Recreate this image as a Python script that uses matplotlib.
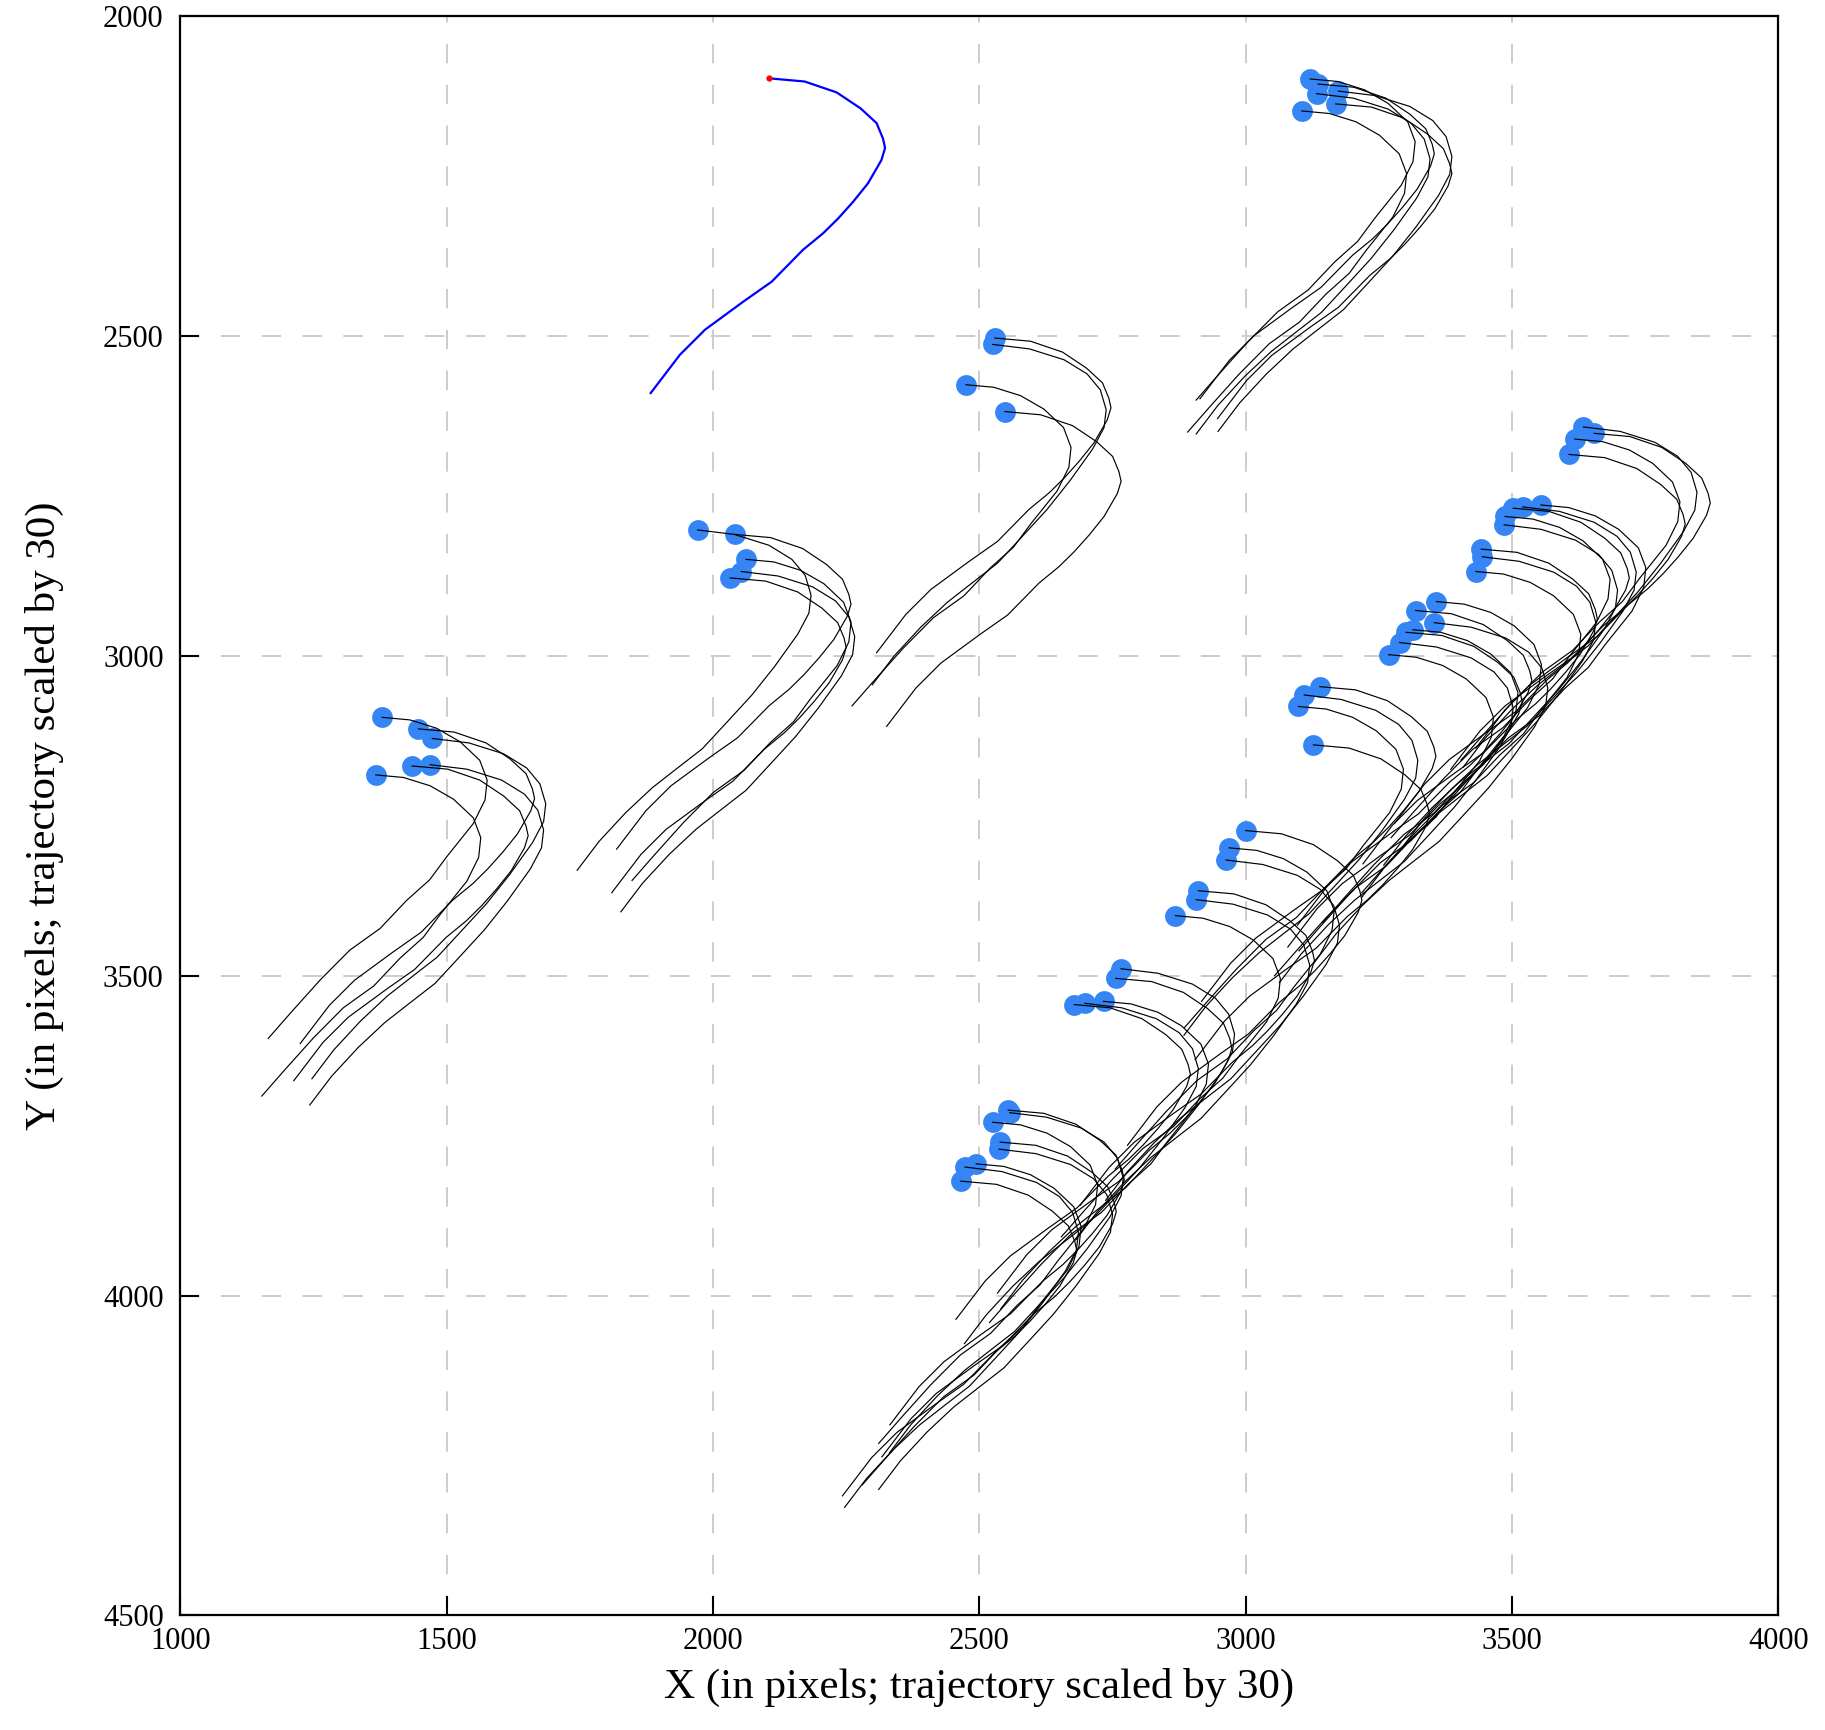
import matplotlib
matplotlib.use("Agg")
import matplotlib.pyplot as plt

plt.rcParams["font.family"] = ["Liberation Serif", "DejaVu Serif"]

# blue reference trajectory
blue_x = [2105, 2172, 2232, 2277, 2307, 2319, 2323, 2316, 2291, 2263, 2235,
          2207, 2169, 2110, 2057, 1985, 1938, 1883]
blue_y = [2097, 2102, 2119, 2144, 2167, 2191, 2206, 2225, 2261, 2290, 2316,
          2339, 2365, 2415, 2446, 2490, 2529, 2589]

# black trajectory shapes, offsets from the starting dot
shape_a_dx = [0, 67, 127, 172, 202, 214, 218, 211, 186, 158, 130, 102, 64, 5,
              -48, -120, -167, -222]
shape_a_dy = [0, 5, 22, 47, 70, 94, 109, 128, 164, 193, 219, 242, 268, 318,
              349, 393, 432, 492]
shape_b_dx = [0, 52, 102, 146, 183, 197, 193, 171, 121, 89, 46, -4, -61,
              -117, -173, -214]
shape_b_dy = [0, 4, 17, 38, 67, 98, 129, 166, 218, 254, 286, 330, 364, 411,
              463, 502]
shape_c_dx = [0, 69, 134, 177, 202, 213, 209, 188, 145, 102, 59, 9, -42, -85,
              -135, -185, -226]
shape_c_dy = [0, 7, 24, 46, 71, 102, 130, 163, 213, 258, 297, 342, 375, 403,
              442, 487, 532]

# starting points of the black trajectories
start_x = [1379, 1447, 1473, 1435, 1469, 1367,
           1971, 2041, 2062, 2053, 2032,
           2529, 2525, 2475, 2548,
           3121, 3136, 3174, 3133, 3169, 3105,
           2554, 2557, 2525, 2539, 2537, 2494, 2473, 2465,
           2766, 2756, 2733, 2698, 2678,
           3000, 2969, 2963, 2911, 2907, 2868,
           3358, 3319, 3354, 3314, 3301, 3289, 3268, 3139, 3110, 3099, 3127,
           3634, 3654, 3618, 3607, 3554, 3520, 3502, 3487, 3485, 3442, 3444, 3432]
start_y = [3096, 3114, 3129, 3172, 3170, 3186,
           2803, 2810, 2849, 2868, 2878,
           2503, 2513, 2576, 2618,
           2098, 2106, 2117, 2121, 2137, 2148,
           3710, 3714, 3729, 3760, 3771, 3794, 3799, 3821,
           3489, 3504, 3540, 3543, 3545,
           3273, 3300, 3319, 3367, 3381, 3406,
           2915, 2929, 2948, 2959, 2963, 2979, 2998, 3048, 3061, 3079, 3139,
           2642, 2652, 2661, 2685, 2764, 2767, 2769, 2782, 2795, 2833, 2845, 2868]
start_shape = [1, 0, 2, 0, 2, 1,
               2, 0, 1, 2, 0,
               0, 2, 1, 0,
               1, 0, 2, 2, 0, 1,
               0, 2, 1, 0, 2, 1, 2, 0,
               2, 0, 1, 2, 0,
               0, 1, 2, 0, 2, 1,
               1, 0, 2, 1, 0, 2, 1, 0, 2, 1, 0,
               2, 0, 1, 0, 1, 2, 0, 1, 2, 0, 2, 1]

shapes = [(shape_a_dx, shape_a_dy), (shape_b_dx, shape_b_dy), (shape_c_dx, shape_c_dy)]

fig = plt.figure(figsize=(18.25, 17.3), dpi=100)
ax = fig.add_axes([0.0988, 0.0662, 0.8757, 0.9244])

ax.scatter(start_x, start_y, s=225, color="#3585f5", zorder=2, linewidths=0)
for x0, y0, k in zip(start_x, start_y, start_shape):
    dx, dy = shapes[k]
    ax.plot([x0 + d for d in dx], [y0 + d for d in dy], color="black", lw=0.85,
            zorder=3, solid_joinstyle="round")

ax.plot(blue_x, blue_y, color="#0000ff", lw=1.6, zorder=4, solid_joinstyle="round")
ax.plot(blue_x[0], blue_y[0], "o", color="red", ms=3.5, zorder=5)

ax.set_xlim(1000, 4000)
ax.set_ylim(4500, 2000)
ax.set_xticks([1000, 1500, 2000, 2500, 3000, 3500, 4000])
ax.set_yticks([2000, 2500, 3000, 3500, 4000, 4500])
ax.grid(True, color="#cccccc", lw=1.4, linestyle=(0, (10, 11)), zorder=0)
ax.set_axisbelow(True)
ax.tick_params(axis="x", direction="in", length=14, width=1.5, labelsize=22, pad=8)
ax.tick_params(axis="y", direction="in", length=14, width=1.5, labelsize=22, pad=12)
for sp in ax.spines.values():
    sp.set_linewidth(1.6)

ax.set_xlabel("X (in pixels; trajectory scaled by 30)", fontsize=31, labelpad=9)
ax.set_ylabel("Y (in pixels; trajectory scaled by 30)", fontsize=31, labelpad=28)

fig.savefig("out.png", dpi=100)
